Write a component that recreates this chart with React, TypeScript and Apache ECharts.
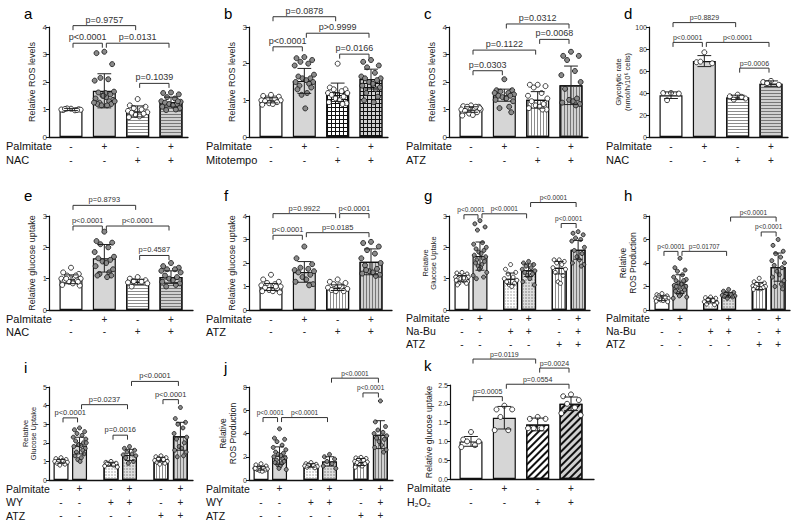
import React, { useEffect, useRef } from "react";
import * as echarts from "echarts";

const FONT = "'Liberation Sans', Arial, Helvetica, sans-serif";

type Bracket = [number, number, number, string];
type Row = [string, string[]];

// ---------- shared condition rows ----------
const ROWS_NAC: Row[] = [["Palmitate", ["-", "+", "-", "+"]], ["NAC", ["-", "-", "+", "+"]]];
const ROWS_MITO: Row[] = [["Palmitate", ["-", "+", "-", "+"]], ["Mitotempo", ["-", "-", "+", "+"]]];
const ROWS_ATZ: Row[] = [["Palmitate", ["-", "+", "-", "+"]], ["ATZ", ["-", "-", "+", "+"]]];
const ROWS_NABU: Row[] = [
  ["Palmitate", ["-", "+", "-", "+", "-", "+"]],
  ["Na-Bu", ["-", "-", "+", "+", "-", "+"]],
  ["ATZ", ["-", "-", "-", "-", "+", "+"]],
];
const ROWS_WY: Row[] = [
  ["Palmitate", ["-", "+", "-", "+", "-", "+"]],
  ["WY", ["-", "-", "+", "+", "-", "+"]],
  ["ATZ", ["-", "-", "-", "-", "+", "+"]],
];
const ROWS_H2O2: Row[] = [["Palmitate", ["-", "+", "-", "+"]], ["H\u2082O\u2082", ["-", "-", "+", "+"]]];

// ---------- a ----------
const A_MEAN = [1.0, 1.68, 0.93, 1.27];
const A_SD = [0.04, 0.62, 0.2, 0.18];
const A_PTS = [
  [1.03, 0.98, 1.01, 1.04, 0.97, 1.0, 0.99, 1.02, 0.98],
  [3.1, 3.05, 2.65, 2.15, 2.1, 2.05, 1.65, 1.62, 1.55, 1.5, 1.45, 1.4, 1.35, 1.3, 1.25, 1.2, 1.2, 1.15, 1.15, 1.6, 1.5, 1.3, 1.25],
  [1.38, 1.15, 1.1, 1.05, 1.0, 0.95, 0.9, 0.88, 0.85, 0.8, 0.75, 0.72],
  [1.62, 1.6, 1.55, 1.45, 1.4, 1.3, 1.28, 1.25, 1.2, 1.2, 1.15, 1.1, 1.05, 1.0, 0.98, 1.3],
];
const A_BR: Bracket[] = [[0, 2, 4.05, "p=0.9757"], [0, 1, 3.41, "p<0.0001"], [1, 3, 3.41, "p=0.0131"], [2, 3, 1.95, "p=0.1039"]];

// ---------- b ----------
const B_MEAN = [1.0, 1.53, 1.22, 1.58];
const B_SD = [0.07, 0.34, 0.25, 0.27];
const B_PTS = [
  [1.15, 1.12, 1.1, 1.05, 1.05, 1.0, 1.0, 0.98, 0.95, 0.92, 0.9, 0.88],
  [2.18, 2.15, 2.1, 2.05, 2.0, 1.95, 1.7, 1.65, 1.6, 1.6, 1.55, 1.5, 1.5, 1.45, 1.4, 1.35, 1.3, 1.2, 1.15, 0.78],
  [2.0, 1.35, 1.3, 1.3, 1.25, 1.2, 1.2, 1.15, 1.1, 1.05, 1.0, 0.95, 0.92, 0.9],
  [2.1, 2.05, 1.95, 1.9, 1.75, 1.65, 1.6, 1.6, 1.55, 1.5, 1.45, 1.4, 1.35, 1.3, 1.2, 1.1, 1.0, 0.95],
];
const B_BR: Bracket[] = [[0, 2, 3.28, "p=0.0878"], [1, 3, 2.83, "p>0.9999"], [0, 1, 2.46, "p<0.0001"], [2, 3, 2.26, "p=0.0166"]];

// ---------- c ----------
const C_MEAN = [1.0, 1.52, 1.35, 1.88];
const C_SD = [0.1, 0.22, 0.3, 0.7];
const C_PTS = [
  [1.15, 1.12, 1.1, 1.1, 1.05, 1.0, 1.0, 0.95, 0.9, 0.85, 0.8, 0.78, 1.05, 1.1],
  [2.1, 1.7, 1.7, 1.65, 1.6, 1.6, 1.55, 1.5, 1.5, 1.45, 1.4, 1.35, 1.3, 1.1, 1.05, 0.9],
  [1.9, 1.9, 1.85, 1.8, 1.6, 1.5, 1.4, 1.3, 1.2, 1.15, 1.1, 1.05, 1.0, 1.0],
  [3.1, 2.95, 2.95, 2.8, 2.4, 2.25, 2.0, 1.75, 1.4, 1.35, 1.3, 1.25, 1.2, 1.15],
];
const C_BR: Bracket[] = [[1, 3, 4.11, "p=0.0312"], [2, 3, 3.55, "p=0.0068"], [0, 2, 3.16, "p=0.1122"], [0, 1, 2.41, "p=0.0303"]];

// ---------- d ----------
const D_MEAN = [38, 69, 36, 48.5];
const D_SD = [3, 5, 2, 2.5];
const D_PTS = [
  [40, 40, 39.5, 33.5],
  [77, 68, 67, 68.5],
  [38.5, 37, 35, 34, 36.5],
  [51, 50, 47.5, 49],
];
const D_BR: Bracket[] = [[0, 2, 104, "p=0.8829"], [0, 1, 86, "p<0.0001"], [1, 3, 86, "p<0.0001"], [2, 3, 62.6, "p=0.0006"]];

// ---------- e ----------
const E_MEAN = [0.98, 1.65, 0.9, 1.05];
const E_SD = [0.14, 0.44, 0.08, 0.2];
const E_PTS = [
  [1.35, 1.2, 1.15, 1.1, 1.05, 1.0, 1.0, 0.95, 0.95, 0.9, 0.85, 0.8, 0.78, 1.1, 1.0, 0.9],
  [2.5, 2.2, 2.15, 2.1, 2.0, 1.85, 1.7, 1.65, 1.6, 1.55, 1.5, 1.4, 1.3, 1.2, 1.15, 1.1, 1.1, 1.05],
  [1.05, 1.0, 0.95, 0.92, 0.9, 0.88, 0.85, 0.75],
  [1.5, 1.4, 1.35, 1.3, 1.3, 1.25, 1.2, 1.1, 1.05, 1.0, 0.95, 0.9, 0.85, 0.8, 0.75],
];
const E_BR: Bracket[] = [[0, 2, 3.34, "p=0.8793"], [0, 1, 2.68, "p<0.0001"], [1, 3, 2.68, "p<0.0001"], [2, 3, 1.74, "p=0.4587"]];

// ---------- f ----------
const F_MEAN = [0.98, 1.62, 0.95, 2.05];
const F_SD = [0.15, 0.44, 0.12, 0.55];
const F_PTS = [
  [1.5, 1.3, 1.2, 1.15, 1.1, 1.05, 1.0, 0.95, 0.9, 0.85, 0.8, 0.8, 0.75, 1.0],
  [2.7, 2.2, 1.95, 1.8, 1.75, 1.7, 1.65, 1.6, 1.5, 1.4, 1.3, 1.2, 1.1, 1.05],
  [1.3, 1.2, 1.15, 1.1, 1.0, 0.95, 0.9, 0.85, 0.8, 0.8, 1.05],
  [2.9, 2.85, 2.7, 2.55, 2.4, 2.2, 2.0, 1.9, 1.75, 1.65, 1.6, 1.55, 1.5, 1.45, 1.7],
];
const F_BR: Bracket[] = [[0, 2, 4.1, "p=0.9922"], [2, 3, 4.1, "p<0.0001"], [0, 1, 3.18, "p<0.0001"], [1, 3, 3.29, "p=0.0185"]];

// ---------- g ----------
const G_MEAN = [1.0, 1.72, 1.0, 1.27, 1.35, 1.92];
const G_SD = [0.1, 0.45, 0.18, 0.2, 0.2, 0.3];
const G_PTS = [
  [1.2, 1.18, 1.15, 1.1, 1.1, 1.05, 1.05, 1.0, 1.0, 1.0, 0.95, 0.95, 0.9, 0.9, 0.85, 0.85, 0.8, 1.02],
  [2.85, 2.75, 2.65, 2.55, 2.15, 2.1, 2.0, 1.95, 1.9, 1.85, 1.8, 1.75, 1.7, 1.65, 1.6, 1.55, 1.5, 1.45, 1.4, 1.35, 1.3, 1.2, 1.1, 1.05, 1.0],
  [1.45, 1.3, 1.2, 1.15, 1.05, 1.0, 0.95, 0.9, 0.85, 0.8, 0.75],
  [1.55, 1.5, 1.45, 1.4, 1.35, 1.3, 1.25, 1.2, 1.15, 1.1, 1.0, 0.9, 0.8],
  [1.6, 1.6, 1.55, 1.5, 1.45, 1.35, 1.3, 1.2, 1.1, 0.9, 0.85],
  [2.5, 2.45, 2.4, 2.3, 2.25, 2.2, 2.0, 1.9, 1.8, 1.7, 1.6, 1.5, 1.45, 1.4],
];
const G_BR: Bracket[] = [[0, 1, 3.04, "p<0.0001"], [1, 3, 3.07, "p<0.0001"], [3, 5, 3.43, "p<0.0001"], [4, 5, 2.76, "p<0.0001"]];

// ---------- h ----------
const H_MEAN = [1.0, 2.2, 0.8, 1.3, 2.05, 3.65];
const H_SD = [0.2, 0.8, 0.2, 0.2, 0.3, 1.2];
const H_PTS = [
  [1.4, 1.3, 1.2, 1.1, 1.05, 1.0, 1.0, 0.95, 0.9, 0.85, 0.8, 0.75, 0.7, 1.1, 1.2],
  [4.4, 3.6, 3.4, 3.3, 3.0, 2.8, 2.6, 2.5, 2.4, 2.3, 2.2, 2.1, 2.0, 1.9, 1.8, 1.7, 1.6, 1.5, 1.4, 1.3, 1.2, 1.1, 1.0, 2.5, 2.0],
  [1.1, 1.05, 1.0, 0.9, 0.8, 0.7, 0.6, 0.5, 0.45],
  [1.75, 1.6, 1.5, 1.4, 1.3, 1.25, 1.2, 1.15, 1.1, 1.0],
  [2.7, 2.4, 2.3, 2.2, 2.1, 2.05, 2.0, 1.95, 1.9, 1.85, 1.8, 1.75],
  [6.0, 5.5, 5.0, 4.8, 4.5, 4.2, 4.0, 3.8, 3.6, 3.3, 3.0, 2.8, 2.5, 2.2, 2.0, 1.8],
];
const H_BR: Bracket[] = [[0, 1, 4.99, "p<0.0001"], [1, 3, 4.99, "p=0.01707"], [3, 5, 7.91, "p<0.0001"], [4, 5, 6.64, "p<0.0001"]];

// ---------- i ----------
const I_MEAN = [1.0, 1.85, 0.85, 1.35, 1.1, 2.35];
const I_SD = [0.1, 0.45, 0.1, 0.3, 0.12, 0.75];
const I_PTS = [
  [1.2, 1.15, 1.1, 1.05, 1.0, 1.0, 0.95, 0.9, 0.85, 0.8, 1.05],
  [2.8, 2.7, 2.6, 2.5, 2.4, 2.3, 2.2, 2.1, 2.0, 1.9, 1.85, 1.8, 1.7, 1.6, 1.5, 1.4, 1.3, 1.2, 1.1, 1.0, 1.9, 2.0],
  [1.0, 0.95, 0.9, 0.85, 0.8, 0.75, 0.7, 0.9],
  [1.8, 1.7, 1.6, 1.5, 1.4, 1.35, 1.3, 1.2, 1.0, 0.9],
  [1.3, 1.25, 1.2, 1.15, 1.1, 1.05, 1.0, 0.95, 0.9, 0.85],
  [3.9, 3.3, 3.1, 3.0, 2.8, 2.5, 2.3, 2.2, 2.0, 1.8, 1.7, 1.6, 1.5, 1.3, 1.25],
];
const I_BR: Bracket[] = [[0, 1, 3.34, "p<0.0001"], [1, 3, 4.05, "p=0.0237"], [3, 5, 5.3, "p<0.0001"], [4, 5, 4.32, "p<0.0001"], [2, 3, 2.41, "p=0.0016"]];

// ---------- j ----------
const J_MEAN = [1.0, 2.1, 1.25, 1.6, 1.55, 3.9];
const J_SD = [0.15, 0.75, 0.15, 0.4, 0.3, 1.2];
const J_PTS = [
  [1.4, 1.3, 1.2, 1.1, 1.05, 1.0, 0.95, 0.9, 0.85, 0.8, 0.75, 1.0],
  [4.4, 3.6, 3.5, 3.3, 3.0, 2.8, 2.6, 2.4, 2.3, 2.2, 2.1, 2.0, 1.9, 1.8, 1.7, 1.6, 1.5, 1.4, 1.3, 1.2, 1.0, 0.9],
  [1.5, 1.4, 1.35, 1.3, 1.25, 1.2, 1.15, 1.1, 1.05],
  [2.2, 2.0, 1.8, 1.6, 1.4, 1.2, 1.0],
  [1.95, 1.9, 1.85, 1.8, 1.7, 1.6, 1.55, 1.5, 1.4, 1.3, 1.2, 1.1],
  [6.8, 5.0, 4.6, 4.3, 4.1, 4.0, 3.8, 3.6, 3.5, 3.3, 3.0, 2.8, 2.6, 2.4],
];
const J_BR: Bracket[] = [[0, 1, 5.37, "p<0.0001"], [1, 3, 5.37, "p<0.0001"], [3, 5, 8.76, "p<0.0001"], [4, 5, 7.49, "p<0.0001"]];

// ---------- k ----------
const K_MEAN = [1.0, 1.63, 1.45, 2.0];
const K_SD = [0.13, 0.3, 0.17, 0.18];
const K_PTS = [
  [1.25, 1.05, 1.0, 1.0, 0.9, 0.85],
  [1.95, 1.85, 1.85, 1.65, 1.3, 1.3],
  [1.65, 1.6, 1.6, 1.35, 1.35, 1.35],
  [2.25, 2.2, 2.1, 2.0, 1.9, 1.75, 1.7],
];
const K_BR: Bracket[] = [[0, 2, 3.19, "p=0.0119"], [2, 3, 2.95, "p=0.0024"], [1, 3, 2.52, "p=0.0554"], [0, 1, 2.19, "p=0.0005"]];

// ---------- layout (positions / styles only) ----------
const POS4 = [0, 1, 2, 3];
const POS6 = [0, 1, 2.7, 3.7, 5.4, 6.45];
const JIT = [0, -0.34, 0.34, -0.17, 0.17, -0.42, 0.42, -0.26, 0.26, -0.08, 0.08, -0.38, 0.38, 0.21, -0.21, 0.3, -0.3, 0.12, -0.12, 0.04, -0.04, 0.45, -0.45, 0.24, -0.24];
const PW = "#ffffff";
const PG = "#8a8a8a";

interface Panel {
  letter: string; lx: number; ly: number;
  left: number; top: number; width: number; height: number;
  xmin: number; xmax: number; ymax: number; yint: number; dec: number;
  pos: number[]; barW: number; fills: string[]; ptFill: string[]; ptSize: number;
  mean: number[]; sd: number[]; pts: number[][]; br: Bracket[]; brFont: number;
  rows: Row[]; rowOff: number; rowStep: number; rowFont: number;
  yName: string; nameGap: number; nameFont: number; tickFont: number;
}

const PANELS: Panel[] = [
  { letter: "a", lx: 24, ly: 6, left: 49, top: 27, width: 139, height: 110, xmin: -0.66, xmax: 3.51, ymax: 4, yint: 1, dec: 0,
    pos: POS4, barW: 23, fills: ["w", "g", "hw", "hg"], ptFill: [PW, PG, PW, PG], ptSize: 5,
    mean: A_MEAN, sd: A_SD, pts: A_PTS, br: A_BR, brFont: 9, rows: ROWS_NAC, rowOff: 9, rowStep: 14, rowFont: 11,
    yName: "Relative ROS levels", nameGap: 12, nameFont: 9, tickFont: 8 },
  { letter: "b", lx: 224, ly: 6, left: 249, top: 27, width: 139, height: 110, xmin: -0.66, xmax: 3.51, ymax: 3, yint: 1, dec: 0,
    pos: POS4, barW: 23, fills: ["w", "g", "gw", "gg"], ptFill: [PW, PG, PW, PG], ptSize: 5,
    mean: B_MEAN, sd: B_SD, pts: B_PTS, br: B_BR, brFont: 9, rows: ROWS_MITO, rowOff: 9, rowStep: 14, rowFont: 11,
    yName: "Relative ROS levels", nameGap: 12, nameFont: 9, tickFont: 8 },
  { letter: "c", lx: 424, ly: 6, left: 449, top: 27, width: 139, height: 110, xmin: -0.66, xmax: 3.51, ymax: 4, yint: 1, dec: 0,
    pos: POS4, barW: 23, fills: ["w", "g", "vw", "vg"], ptFill: [PW, PG, PW, PG], ptSize: 5,
    mean: C_MEAN, sd: C_SD, pts: C_PTS, br: C_BR, brFont: 9, rows: ROWS_ATZ, rowOff: 9, rowStep: 14, rowFont: 11,
    yName: "Relative ROS levels", nameGap: 12, nameFont: 9, tickFont: 8 },
  { letter: "d", lx: 624, ly: 6, left: 649, top: 27, width: 139, height: 110, xmin: -0.66, xmax: 3.51, ymax: 100, yint: 20, dec: 0,
    pos: POS4, barW: 23, fills: ["w", "g", "hw", "hg"], ptFill: [PW, PW, PW, PW], ptSize: 5,
    mean: D_MEAN, sd: D_SD, pts: D_PTS, br: D_BR, brFont: 7, rows: ROWS_NAC, rowOff: 9, rowStep: 14, rowFont: 11,
    yName: "Glycolytic rate\n(nmol/h/10\u2076 cells)", nameGap: 10, nameFont: 7.5, tickFont: 7 },
  { letter: "e", lx: 24, ly: 188, left: 49, top: 216, width: 144, height: 94, xmin: -0.66, xmax: 3.66, ymax: 3, yint: 1, dec: 0,
    pos: POS4, barW: 23, fills: ["w", "g", "hw", "hg"], ptFill: [PW, PG, PW, PG], ptSize: 5,
    mean: E_MEAN, sd: E_SD, pts: E_PTS, br: E_BR, brFont: 7.5, rows: ROWS_NAC, rowOff: 9, rowStep: 12.5, rowFont: 11,
    yName: "Relative glucose uptake", nameGap: 12, nameFont: 9, tickFont: 7.5 },
  { letter: "f", lx: 224, ly: 188, left: 249, top: 216, width: 143, height: 94, xmin: -0.66, xmax: 3.63, ymax: 4, yint: 1, dec: 0,
    pos: POS4, barW: 23, fills: ["w", "g", "vw", "vg"], ptFill: [PW, PG, PW, PG], ptSize: 5,
    mean: F_MEAN, sd: F_SD, pts: F_PTS, br: F_BR, brFont: 7.5, rows: ROWS_ATZ, rowOff: 9, rowStep: 12.5, rowFont: 11,
    yName: "Relative glucose uptake", nameGap: 12, nameFont: 9, tickFont: 7.5 },
  { letter: "g", lx: 424, ly: 188, left: 449, top: 216, width: 141, height: 94, xmin: -0.72, xmax: 7.11, ymax: 3, yint: 1, dec: 0,
    pos: POS6, barW: 15, fills: ["w", "g", "dw", "dg", "vw", "vg"], ptFill: [PW, PG, PW, PG, PW, PG], ptSize: 4,
    mean: G_MEAN, sd: G_SD, pts: G_PTS, br: G_BR, brFont: 6.5, rows: ROWS_NABU, rowOff: 8, rowStep: 13, rowFont: 10.5,
    yName: "Relative\nGlucose Uptake", nameGap: 11, nameFont: 7.5, tickFont: 7 },
  { letter: "h", lx: 624, ly: 188, left: 649, top: 216, width: 141, height: 94, xmin: -0.72, xmax: 7.11, ymax: 8, yint: 2, dec: 0,
    pos: POS6, barW: 15, fills: ["w", "g", "dw", "dg", "vw", "vg"], ptFill: [PW, PG, PW, PG, PW, PG], ptSize: 4,
    mean: H_MEAN, sd: H_SD, pts: H_PTS, br: H_BR, brFont: 6.5, rows: ROWS_NABU, rowOff: 8, rowStep: 13, rowFont: 10.5,
    yName: "Relative\nROS Production", nameGap: 11, nameFont: 8.5, tickFont: 7 },
  { letter: "i", lx: 24, ly: 360, left: 49, top: 387, width: 144, height: 93, xmin: -0.65, xmax: 7.13, ymax: 5, yint: 1, dec: 0,
    pos: POS6, barW: 15, fills: ["w", "g", "dw", "dg", "vw", "vg"], ptFill: [PW, PG, PW, PG, PW, PG], ptSize: 4,
    mean: I_MEAN, sd: I_SD, pts: I_PTS, br: I_BR, brFont: 7.5, rows: ROWS_WY, rowOff: 8.5, rowStep: 13.5, rowFont: 10.5,
    yName: "Relative\nGlucose Uptake", nameGap: 11, nameFont: 7.5, tickFont: 7 },
  { letter: "j", lx: 224, ly: 360, left: 249, top: 387, width: 144, height: 93, xmin: -0.65, xmax: 7.13, ymax: 8, yint: 2, dec: 0,
    pos: POS6, barW: 15, fills: ["w", "g", "dw", "dg", "vw", "vg"], ptFill: [PW, PG, PW, PG, PW, PG], ptSize: 4,
    mean: J_MEAN, sd: J_SD, pts: J_PTS, br: J_BR, brFont: 6.5, rows: ROWS_WY, rowOff: 8.5, rowStep: 13.5, rowFont: 10.5,
    yName: "Relative\nROS Production", nameGap: 11, nameFont: 8.5, tickFont: 7 },
  { letter: "k", lx: 424, ly: 358, left: 450, top: 385, width: 144, height: 94, xmin: -0.63, xmax: 3.69, ymax: 2.5, yint: 0.5, dec: 1,
    pos: POS4, barW: 23, fills: ["w", "g", "xw", "xg"], ptFill: [PW, PW, PW, PW], ptSize: 5,
    mean: K_MEAN, sd: K_SD, pts: K_PTS, br: K_BR, brFont: 7, rows: ROWS_H2O2, rowOff: 9, rowStep: 14, rowFont: 10.5,
    yName: "Relative glucose uptake", nameGap: 13, nameFont: 8.7, tickFont: 7 },
];

function fillStyle(f: string): any {
  const base = { borderColor: "#111", borderWidth: 1.2 };
  const stripeH = (c: string) => ({ symbol: "rect", symbolSize: 1, dashArrayX: [1, 0], dashArrayY: [1, 2], color: c });
  const stripeV = (c: string) => ({ symbol: "rect", symbolSize: 1, dashArrayX: [1, 2], dashArrayY: [1, 0], color: c });
  const grid = (c: string) => ({ symbol: "rect", symbolSize: 1, dashArrayX: [2.6, 1], dashArrayY: [2.6, 1], color: c });
  const dots = (c: string) => ({ symbol: "circle", symbolSize: 0.8, dashArrayX: [1.5, 1], dashArrayY: [1.5, 1], color: c });
  const diag = (c: string) => ({ symbol: "rect", symbolSize: 1, dashArrayX: [1, 0], dashArrayY: [2, 2.5], rotation: -Math.PI / 4, color: c });
  switch (f) {
    case "g": return { ...base, color: "#d6d6d6" };
    case "hw": return { ...base, color: "#ffffff", decal: stripeH("#8c8c8c") };
    case "hg": return { ...base, color: "#d0d0d0", decal: stripeH("#777777") };
    case "vw": return { ...base, color: "#ffffff", decal: stripeV("#8c8c8c") };
    case "vg": return { ...base, color: "#d0d0d0", decal: stripeV("#777777") };
    case "gw": return { ...base, color: "#111111", decal: grid("#ffffff") };
    case "gg": return { ...base, color: "#111111", decal: grid("#cfcfcf") };
    case "dw": return { ...base, color: "#ffffff", decal: dots("#bdbdbd") };
    case "dg": return { ...base, color: "#dedede", decal: dots("#9a9a9a") };
    case "xw": return { ...base, color: "#ffffff", decal: diag("#111111") };
    case "xg": return { ...base, color: "#d0d0d0", decal: diag("#111111") };
    default: return { ...base, color: "#ffffff" };
  }
}

function buildOption() {
  const grid: any[] = [];
  const xAxis: any[] = [];
  const yAxis: any[] = [];
  const series: any[] = [];
  const graphic: any[] = [];

  PANELS.forEach((p, k) => {
    grid.push({ left: p.left, top: p.top, width: p.width, height: p.height });
    xAxis.push({
      type: "value", gridIndex: k, min: p.xmin, max: p.xmax,
      axisLine: { show: true, onZero: false, lineStyle: { color: "#111", width: 1.3 } },
      axisTick: { show: false }, axisLabel: { show: false }, splitLine: { show: false },
    });
    yAxis.push({
      type: "value", gridIndex: k, min: 0, max: p.ymax, interval: p.yint,
      axisLine: { show: true, onZero: false, lineStyle: { color: "#111", width: 1.2 } },
      axisTick: { show: true, length: 3, lineStyle: { color: "#111" } },
      axisLabel: { fontSize: p.tickFont, color: "#333", margin: 2, fontFamily: FONT, formatter: (v: number) => v.toFixed(p.dec) },
      splitLine: { show: false },
      name: p.yName, nameLocation: "middle", nameGap: p.nameGap,
      nameTextStyle: { fontSize: p.nameFont, fontFamily: FONT, color: "#222", lineHeight: p.nameFont * 1.15 },
    });

    const pxPerUnit = p.width / (p.xmax - p.xmin);
    const bwUnits = p.barW / pxPerUnit;

    series.push({
      type: "bar", xAxisIndex: k, yAxisIndex: k, barWidth: p.barW, z: 2, silent: true,
      data: p.mean.map((m, i) => ({ value: [p.pos[i], m], itemStyle: fillStyle(p.fills[i]) })),
    });

    const pts: any[] = [];
    p.pts.forEach((arr, b) => {
      arr.forEach((v, i) => {
        pts.push({ value: [p.pos[b] + JIT[i % JIT.length] * bwUnits, v], itemStyle: { color: p.ptFill[b] } });
      });
    });
    series.push({
      type: "scatter", xAxisIndex: k, yAxisIndex: k, symbol: "circle", symbolSize: p.ptSize, z: 3, silent: true,
      itemStyle: { borderColor: "#111", borderWidth: 0.8, opacity: 1 },
      data: pts,
    });

    const capHalf = p.barW * 0.3;
    series.push({
      type: "custom", xAxisIndex: k, yAxisIndex: k, z: 4, silent: true, clip: false,
      data: p.mean.map((m, i) => [p.pos[i], m, p.sd[i]]),
      renderItem: (_params: any, api: any) => {
        const x = api.value(0), m = api.value(1), s = api.value(2);
        const t = api.coord([x, m + s]);
        const bo = api.coord([x, Math.max(0, m - s)]);
        const st = { stroke: "#222", lineWidth: 1 };
        return {
          type: "group",
          children: [
            { type: "line", shape: { x1: t[0], y1: t[1], x2: bo[0], y2: bo[1] }, style: st },
            { type: "line", shape: { x1: t[0] - capHalf, y1: t[1], x2: t[0] + capHalf, y2: t[1] }, style: st },
            { type: "line", shape: { x1: bo[0] - capHalf, y1: bo[1], x2: bo[0] + capHalf, y2: bo[1] }, style: st },
          ],
        };
      },
    });

    series.push({
      type: "custom", xAxisIndex: k, yAxisIndex: k, z: 5, silent: true, clip: false,
      data: p.br.map((b) => [p.pos[b[0]], p.pos[b[1]], b[2]]),
      renderItem: (params: any, api: any) => {
        const a = api.coord([api.value(0), api.value(2)]);
        const c = api.coord([api.value(1), api.value(2)]);
        const x1 = a[0] + 2, x2 = c[0] - 2, y = a[1];
        const arm = 4.5;
        return {
          type: "group",
          children: [
            { type: "polyline", shape: { points: [[x1, y + arm], [x1, y], [x2, y], [x2, y + arm]] }, style: { stroke: "#333", lineWidth: 1, fill: null } },
            { type: "text", x: (x1 + x2) / 2, y: y - 1.5, style: { text: p.br[params.dataIndex][3], align: "center", verticalAlign: "bottom", fontSize: p.brFont, fontFamily: FONT, fill: "#333" } },
          ],
        };
      },
    });

    const rowData: number[][] = [];
    p.rows.forEach((r, ri) => {
      rowData.push([p.xmin, ri, -1]);
      r[1].forEach((_s, b) => rowData.push([p.pos[b], ri, b]));
    });
    series.push({
      type: "custom", xAxisIndex: k, yAxisIndex: k, z: 5, silent: true, clip: false,
      data: rowData,
      renderItem: (_params: any, api: any) => {
        const x = api.value(0), ri = api.value(1), b = api.value(2);
        const pt = api.coord([x, 0]);
        const y = pt[1] + p.rowOff + ri * p.rowStep;
        if (b < 0) {
          return { type: "text", x: pt[0] - 43, y, style: { text: p.rows[ri][0], align: "left", verticalAlign: "middle", fontSize: p.rowFont, fontFamily: FONT, fill: "#111" } };
        }
        return { type: "text", x: pt[0], y, style: { text: p.rows[ri][1][b], align: "center", verticalAlign: "middle", fontSize: 10, fontFamily: FONT, fill: "#222" } };
      },
    });

    graphic.push({ type: "text", left: p.lx, top: p.ly, style: { text: p.letter, fontSize: 15, fontFamily: FONT, fill: "#000" } });
  });

  return { animation: false, backgroundColor: "#fff", grid, xAxis, yAxis, series, graphic };
}

export default function App() {
  const ref = useRef<HTMLDivElement>(null);
  useEffect(() => {
    if (!ref.current) return;
    const chart = echarts.init(ref.current, null, { renderer: "svg" });
    chart.setOption(buildOption() as any);
    return () => chart.dispose();
  }, []);
  return <div ref={ref} style={{ position: "fixed", left: 0, top: 0, width: 800, height: 524, background: "#fff" }} />;
}
